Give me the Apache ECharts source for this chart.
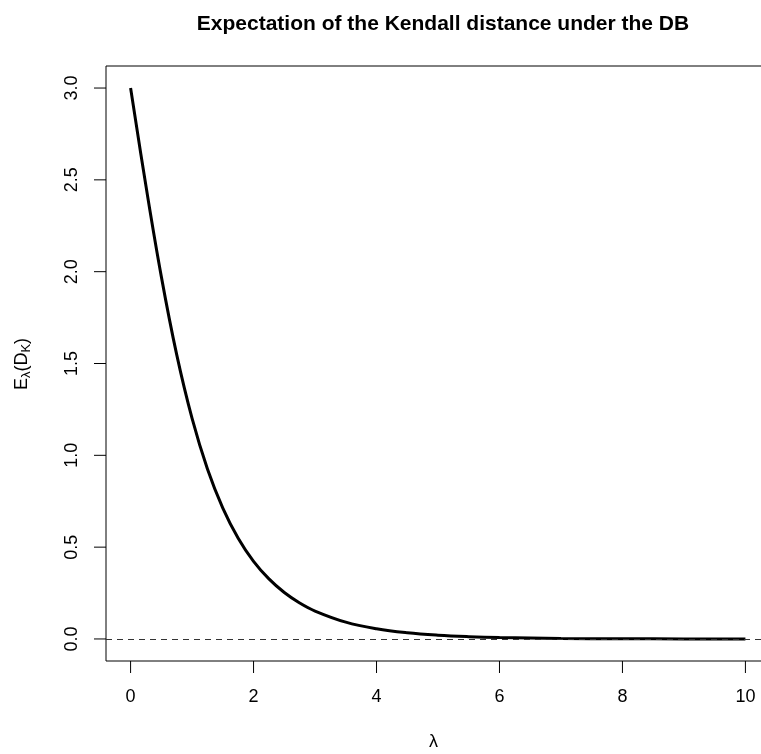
<!DOCTYPE html>
<html>
<head>
<meta charset="utf-8">
<script src="https://cdn.jsdelivr.net/npm/echarts@6/dist/echarts.min.js"></script>
<style>
html,body{margin:0;padding:0;background:#fff;}
#chart{width:761px;height:754px;}
</style>
</head>
<body>
<div id="chart"></div>
<script>
// Values
var lambdaValues = [0, 0.25, 0.5, 0.75, 1, 1.25, 1.5, 1.75, 2, 2.25, 2.5, 2.75, 3, 3.5, 4, 4.5, 5, 5.5, 6, 7, 8, 9, 10];
var expectValues = [3.0, 2.466, 1.973, 1.548, 1.201, 0.926, 0.713, 0.549, 0.423, 0.327, 0.253, 0.196, 0.152, 0.0915, 0.0553, 0.0335, 0.0203, 0.0123, 0.0074, 0.0027, 0.0010, 0.0004, 0.0001];
var xTicks = [0, 2, 4, 6, 8, 10];
var yTicks = [0, 0.5, 1, 1.5, 2, 2.5, 3];
var xRange = [0, 10];
var yRange = [0, 3];
var refLine = 0;
var titleText = 'Expectation of the Kendall distance under the DB';

var FONT = '"Liberation Sans", Arial, Helvetica, sans-serif';
var chart = echarts.init(document.getElementById('chart'), null, {renderer: 'canvas'});
var seriesData = lambdaValues.map(function (x, i) { return [x, expectValues[i]]; });

// R pads each axis range by 4% on both sides
var xPad = (xRange[1] - xRange[0]) * 0.04;
var yPad = (yRange[1] - yRange[0]) * 0.04;
var xMin = xRange[0] - xPad, xMax = xRange[1] + xPad;
var yMin = yRange[0] - yPad, yMax = yRange[1] + yPad;
var TICK = 12;

function xTickItem(params, api) {
  var v = api.value(0);
  var p = api.coord([v, yMin]);
  return {
    type: 'group',
    children: [
      {type: 'line', shape: {x1: p[0], y1: p[1], x2: p[0], y2: p[1] + TICK},
        style: {stroke: '#000', lineWidth: 1}},
      {type: 'text', x: p[0], y: p[1] + 36,
        style: {text: String(v), fontFamily: FONT, fontSize: 18, fill: '#000',
          align: 'center', verticalAlign: 'middle'}}
    ]
  };
}
function yTickItem(params, api) {
  var v = api.value(0);
  var p = api.coord([xMin, v]);
  return {
    type: 'group',
    children: [
      {type: 'line', shape: {x1: p[0] - TICK, y1: p[1], x2: p[0], y2: p[1]},
        style: {stroke: '#000', lineWidth: 1}},
      {type: 'text', x: p[0] - 34, y: p[1], rotation: Math.PI / 2,
        style: {text: v.toFixed(1), fontFamily: FONT, fontSize: 18, fill: '#000',
          align: 'center', verticalAlign: 'middle'}}
    ]
  };
}

chart.setOption({
  backgroundColor: '#ffffff',
  animation: false,
  title: {
    text: titleText,
    left: 438, top: 9,
    textAlign: 'center',
    textStyle: {fontFamily: FONT, fontSize: 21, fontWeight: 'bold', color: '#000'}
  },
  grid: {
    left: 106, top: 66, width: 664, height: 595,
    outerBoundsMode: 'none', containLabel: false,
    show: true, borderColor: '#000', borderWidth: 1, backgroundColor: 'transparent'
  },
  xAxis: {
    type: 'value', min: xMin, max: xMax,
    axisLine: {show: false}, axisTick: {show: false}, axisLabel: {show: false}, splitLine: {show: false}
  },
  yAxis: {
    type: 'value', min: yMin, max: yMax,
    axisLine: {show: false}, axisTick: {show: false}, axisLabel: {show: false}, splitLine: {show: false}
  },
  graphic: [
    {
      type: 'text', left: 429, top: 733,
      style: {text: 'λ', fontFamily: FONT, fontSize: 18, fill: '#000'}
    },
    {
      type: 'text', x: 22, y: 364, rotation: Math.PI / 2,
      style: {
        text: '{n|E}{s|λ}{n|(D}{s|K}{n|)}',
        align: 'center', verticalAlign: 'middle',
        rich: {
          n: {fontFamily: FONT, fontSize: 18, fill: '#000'},
          s: {fontFamily: FONT, fontSize: 13, fill: '#000', verticalAlign: 'bottom', padding: [8, 0, 0, 0]}
        }
      }
    }
  ],
  series: [
    {
      type: 'custom', silent: true, clip: false,
      data: xTicks.map(function (v) { return [v]; }),
      encode: {x: 0},
      renderItem: xTickItem
    },
    {
      type: 'custom', silent: true, clip: false,
      data: yTicks.map(function (v) { return [v]; }),
      encode: {y: 0},
      renderItem: yTickItem
    },
    {
      type: 'line',
      data: seriesData,
      smooth: 0.4,
      showSymbol: false,
      symbol: 'none',
      clip: true,
      lineStyle: {color: '#000', width: 3},
      markLine: {
        silent: true, symbol: ['none', 'none'],
        label: {show: false},
        lineStyle: {color: '#333', width: 1, type: [6, 5]},
        data: [{yAxis: refLine}]
      }
    }
  ]
});
</script>
</body>
</html>
